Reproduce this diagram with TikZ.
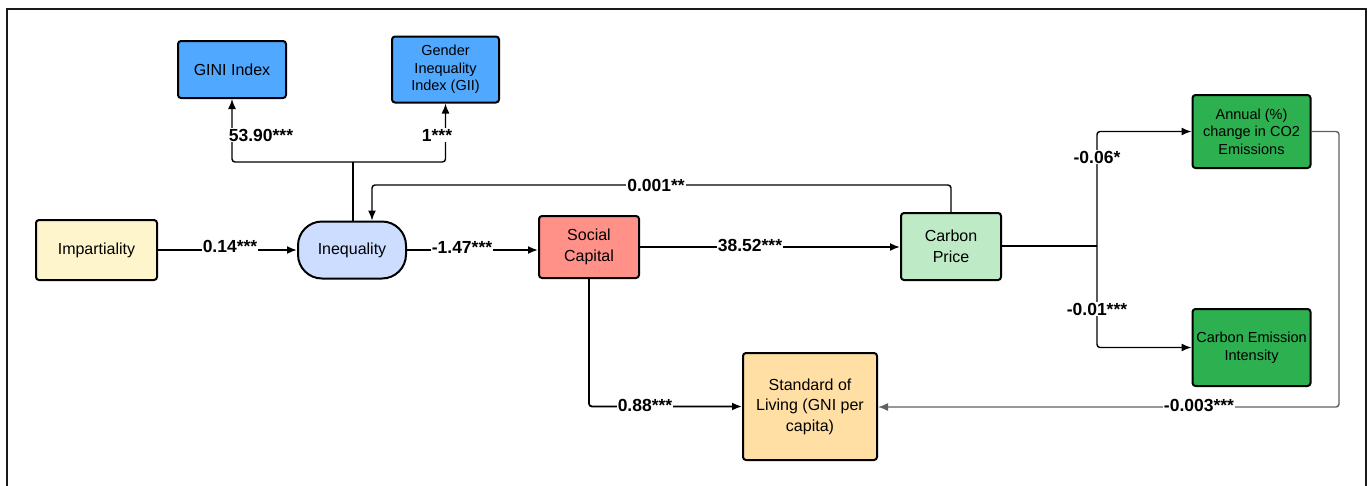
\documentclass[tikz,border=0pt]{standalone}
\usepackage{fontspec}
\setmainfont{Liberation Sans}
\usetikzlibrary{arrows.meta}
\definecolor{cImp}{HTML}{FFF5CC}
\definecolor{cIneq}{HTML}{CCDDFF}
\definecolor{cSoc}{HTML}{FF9189}
\definecolor{cCP}{HTML}{BEEBC6}
\definecolor{cGreen}{HTML}{2DB050}
\definecolor{cBlue}{HTML}{50A8FF}
\definecolor{cSol}{HTML}{FFDFA4}
\definecolor{cGray}{HTML}{606060}
\begin{document}
\begin{tikzpicture}[x=1pt,y=-1pt,
  box/.style={draw=black,line width=2pt,rounded corners=3pt,align=center,inner sep=2pt,font=\fontsize{16}{20.5}\selectfont},
  smallbox/.style={box,font=\fontsize{14.5}{17.5}\selectfont},
  lab/.style={fill=white,inner sep=1pt,font=\bfseries\fontsize{17.5}{20}\selectfont},
  conn/.style={line width=1.8pt,rounded corners=3pt},
  thin/.style={line width=1.4pt,rounded corners=3pt},
  tip/.style={-{Latex[length=10pt,width=8pt]}}
]
\useasboundingbox (0,0) rectangle (1370,485);
\draw[line width=2.4pt,draw=black!90] (7,500) -- (7,9) -- (1366,9) -- (1366,500);

% nodes
\node[box,fill=cImp,minimum width=121pt,minimum height=60pt] (imp) at (96.5,250) {Impartiality};
\node[box,fill=cIneq,minimum width=108pt,minimum height=57pt,rounded corners=24pt] (ineq) at (352,250) {Inequality};
\node[box,fill=cSoc,minimum width=100pt,minimum height=62pt] (soc) at (589,247) {Social\\Capital};
\node[box,fill=cCP,minimum width=100pt,minimum height=67pt] (cp) at (951,246.5) {Carbon\\Price};
\node[smallbox,fill=cGreen,minimum width=118pt,minimum height=73pt] (ann) at (1251.5,131.5) {Annual (\%)\\change in CO2\\Emissions};
\node[smallbox,fill=cGreen,minimum width=118pt,minimum height=77pt] (cei) at (1251.5,347.5) {Carbon Emission\\Intensity};
\node[box,fill=cSol,minimum width=134pt,minimum height=107pt] (sol) at (810,406.5) {Standard of\\Living (GNI per\\capita)};
\node[box,fill=cBlue,minimum width=108pt,minimum height=57pt] (gini) at (232,69.5) {GINI Index};
\node[smallbox,fill=cBlue,minimum width=107pt,minimum height=66pt] (gii) at (445.5,69.5) {Gender\\Inequality\\Index (GII)};

% coordinates
\coordinate (br) at (353,162);
\coordinate (fb) at (372,185);
\coordinate (sp) at (1097,246);
\coordinate (gr) at (1339,407);

% connectors
\draw[conn,tip] (imp.east) -- (imp.east -| ineq.west);
\draw[conn,tip] (ineq.east) -- (ineq.east -| soc.west);
\draw[conn,tip] (soc.east) -- (soc.east -| cp.west);
\draw[conn] (ineq.north -| br) -- (br);
\draw[thin,tip] (br) -| (gini.south);
\draw[thin,tip] (br) -| (gii.south);
\draw[thin,tip] (cp.north) |- (fb) -- (fb |- ineq.north);
\draw[conn,tip] (soc.south) |- (sol.west);
\draw[conn] (cp.east |- sp) -- (sp);
\draw[thin,tip] (sp) |- (ann.west);
\draw[thin,tip] (sp) |- (cei.west);
\draw[thin,draw=cGray,-{Latex[length=10pt,width=8pt]}] (ann.east) -| (gr) -- (gr -| sol.east);

% labels
\node[lab] (l1) at (230,246) {0.14***};
\node[lab] (l2) at (462,247) {-1.47***};
\node[lab] (l3) at (750,245) {38.52***};
\node[lab] (l4) at (261,135) {53.90***};
\node[lab] (l5) at (437,135) {1***};
\node[lab] (l6) at (656,185) {0.001**};
\node[lab] (l7) at (645,405) {0.88***};
\node[lab] (l8) at (1097,157) {-0.06*};
\node[lab] (l9) at (1097,309) {-0.01***};
\node[lab] (l10) at (1199,405) {-0.003***};
\end{tikzpicture}
\end{document}
